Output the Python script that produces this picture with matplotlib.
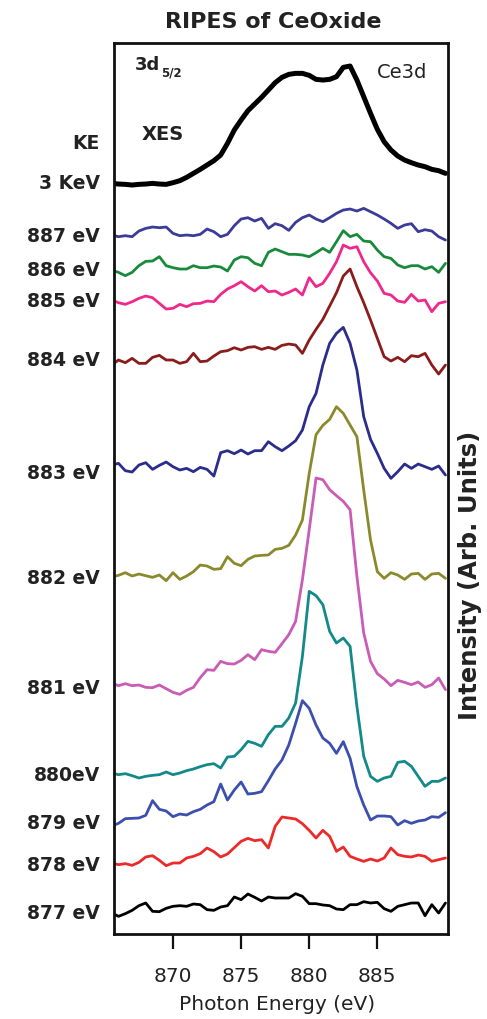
"""
RIPES of CeOxide -- stacked Ce3d spectra (XES on top, RIPES traces below).
"""

import numpy as np
import matplotlib
matplotlib.use("Agg")
import matplotlib.pyplot as plt
import matplotlib.transforms as mtransforms

# ─── Data ────────────────────────────────────────────────────────────────────
# photon energy grid (eV), 0.5 eV steps
energy = np.arange(865.5, 890.01, 0.5)

xes_3kev = [2, 0, -1, -3, -1, 0, 2, 0, -1, 4, 10, 20, 32, 44, 57, 70, 87, 122, 162, 192,
            220, 240, 260, 282, 304, 320, 329, 332, 332, 326, 314, 312, 314, 322, 350, 354,
            312, 262, 212, 164, 127, 102, 84, 72, 64, 57, 52, 44, 40, 32]
ke_887 = [3, -2, 1, -2, 15, 23, 27, 25, 27, 8, 1, 3, 1, 5, 21, 13, -2, 5, 31, 51,
          55, 45, 53, 23, 37, 31, 17, 41, 55, 63, 51, 43, 55, 68, 78, 81, 75, 83, 73, 63,
          51, 38, 23, 33, 37, 13, 19, 15, -2, -12]
ke_886 = [0, -7, -17, -7, 13, 26, 27, 40, 13, 7, 3, 3, 13, 7, 7, 12, 9, -3, 30, 40,
          37, 20, 13, 53, 63, 55, 47, 47, 45, 40, 52, 65, 53, 85, 118, 100, 107, 87, 85, 60,
          40, 35, 15, 7, 13, 13, 3, 10, -7, 20]
ke_885 = [0, -8, -13, -5, 5, 12, 7, -10, -27, -25, -13, -20, -11, -10, -3, -5, 17, 33, 43, 55,
          40, 27, 43, 25, 27, 15, 23, 33, 15, 67, 40, 50, 80, 115, 165, 155, 160, 115, 82, 57,
          20, 15, -3, -7, 17, -3, 0, -35, -10, -5]
ke_884 = [-6, 9, 1, 14, -1, -1, 17, 23, 9, 9, -1, 4, 29, 4, 6, 21, 34, 37, 46, 39,
          47, 49, 41, 47, 41, 53, 57, 54, 29, 69, 101, 131, 171, 211, 261, 282, 229, 181, 129, 74,
          19, 6, 17, 4, 22, 19, 29, -6, -33, -6]
ke_883 = [3, 8, -14, -18, 3, 10, -10, 2, 12, -2, -12, -7, -17, -4, -10, -30, 40, 46, 37, 48,
          36, 46, 46, 73, 58, 46, 60, 76, 108, 178, 218, 303, 368, 398, 416, 368, 288, 148, 80, 38,
          -7, -37, -17, 6, -7, 6, -2, -10, 0, -27]
ke_882 = [1, 5, 13, 3, 9, 4, -1, 6, -11, 13, -7, 3, 16, 36, 33, 23, 25, 61, 41, 34,
          53, 63, 65, 66, 83, 86, 95, 126, 171, 311, 427, 455, 473, 511, 491, 456, 421, 261, 111, 16,
          -4, 13, 6, -7, 9, 11, -7, 9, 11, -4]
ke_881 = [0, -8, -2, -8, -6, -13, -14, -6, -17, -28, -34, -22, -13, 16, 40, 38, 65, 58, 57, 68,
          85, 70, 100, 95, 92, 118, 145, 185, 310, 460, 615, 610, 580, 562, 545, 520, 320, 150, 65, 28,
          12, -8, 8, 2, -5, 3, -13, -5, 15, -20]
ke_880 = [0, -5, -2, -8, -15, -10, -7, -5, 3, -5, 0, 7, 12, 19, 25, 28, 15, 48, 50, 70,
          95, 89, 80, 115, 140, 140, 165, 210, 350, 545, 532, 505, 425, 390, 405, 380, 200, 50, -10, -25,
          -15, -10, 32, 35, 20, -10, -40, -25, -25, -15]
ke_879 = [-3, 5, 19, 20, 21, 29, 73, 47, 42, 25, 33, 30, 40, 47, 60, 70, 123, 75, 105, 129,
          93, 95, 100, 133, 168, 195, 240, 305, 373, 350, 300, 261, 245, 215, 250, 200, 115, 60, 15, 27,
          27, 25, 0, 13, 5, 12, 15, 25, 23, 37]
ke_878 = [0, -5, -2, -7, 2, 18, 22, 8, -8, 0, 0, 15, 20, 28, 45, 34, 18, 27, 46, 65,
          74, 67, 70, 45, 110, 138, 135, 132, 118, 98, 75, 98, 80, 35, 48, 20, 12, 5, 12, 6,
          15, 45, 25, 20, 18, 24, 20, 5, 10, 15]
ke_877 = [0, -10, -2, 8, 22, 30, 5, 4, 14, 20, 22, 20, 27, 25, 10, 8, 18, 22, 48, 40,
          57, 47, 36, 48, 45, 45, 45, 58, 50, 28, 28, 24, 22, 12, 10, 25, 25, 34, 30, 32,
          13, 5, 20, 25, 30, 30, -8, 25, 0, 30]

labels = ["3 KeV", "887 eV", "886 eV", "885 eV", "884 eV", "883 eV",
          "882 eV", "881 eV", "880eV", "879 eV", "878 eV", "877 eV"]
series = [xes_3kev, ke_887, ke_886, ke_885, ke_884, ke_883,
          ke_882, ke_881, ke_880, ke_879, ke_878, ke_877]
# vertical stacking offsets (arb. units)
offsets = [2250, 2094, 1992, 1902, 1713, 1404, 1071, 753, 483, 327, 213, 63]
xticks = [870, 875, 880, 885]

# ─── Style / layout ──────────────────────────────────────────────────────────
COLORS = ["#000000", "#3b3b98", "#198a3c", "#f0288c", "#8b1c1c", "#2c2c8c",
          "#8a8a2c", "#c95cb4", "#13898a", "#3c4fae", "#ec2a2a", "#000000"]
WIDTHS = [3.6] + [2.0] * 11
# small vertical nudges of the row labels relative to their trace (arb. units)
LABEL_NUDGE = [3, 0, 0, -3, 9, -21, -3, -15, -6, 6, -6, 0]
TXT = "#222222"

W, H = 487, 1019


def fpos(x, y):
    """pixel position -> figure fraction"""
    return x / W, 1 - y / H


fig = plt.figure(figsize=(W / 100, H / 100), dpi=100)
ax = fig.add_axes([114 / W, 1 - 934 / H, 333.5 / W, 891.3 / H])

for vals, off, col, lw in zip(series, offsets, COLORS, WIDTHS):
    ax.plot(energy, np.array(vals) + off, color=col, lw=lw,
            solid_joinstyle="round", solid_capstyle="round")

ax.set_xlim(865.67, 890.15)
ax.set_ylim(0, 2674)
ax.set_yticks([])
ax.set_xticks(xticks)
ax.set_xticklabels([str(t) for t in xticks], fontsize=14.5)
ax.tick_params(axis="x", direction="out", length=11, width=1.6, pad=13,
               color="#111111", labelcolor=TXT)
for sp in ax.spines.values():
    sp.set_linewidth(2.0)
    sp.set_color("#111111")

# row labels on the left
trans = mtransforms.blended_transform_factory(ax.transAxes, ax.transData)
for lab, off, nd in zip(labels, offsets, LABEL_NUDGE):
    ax.text(-0.042, off + nd, lab, transform=trans, ha="right", va="center",
            fontsize=13.5, fontweight="bold", color=TXT)
ax.text(-0.042, 2373, "KE", transform=trans, ha="right", va="center",
        fontsize=13.5, fontweight="bold", color=TXT)

# in-plot annotations
fig.text(*fpos(135, 65), "3d", ha="left", va="center",
         fontsize=13, fontweight="bold", color=TXT)
fig.text(*fpos(161, 73), "5/2", ha="left", va="center",
         fontsize=8.5, fontweight="bold", color=TXT)
fig.text(*fpos(142, 135), "XES", ha="left", va="center",
         fontsize=14, fontweight="bold", color=TXT)
fig.text(*fpos(377, 72), "Ce3d", ha="left", va="center",
         fontsize=14, color=TXT)

fig.text(*fpos(273, 22), "RIPES of CeOxide", ha="center", va="center",
         fontsize=16, fontweight="bold", color=TXT)
fig.text(*fpos(277, 1004), "Photon Energy (eV)", ha="center", va="center",
         fontsize=14.5, color=TXT)
fig.text(*fpos(470, 575), "Intensity (Arb. Units)", ha="center", va="center",
         rotation=90, fontsize=17.5, fontweight="bold", color=TXT)

fig.savefig("out.png", dpi=100, facecolor="white")
